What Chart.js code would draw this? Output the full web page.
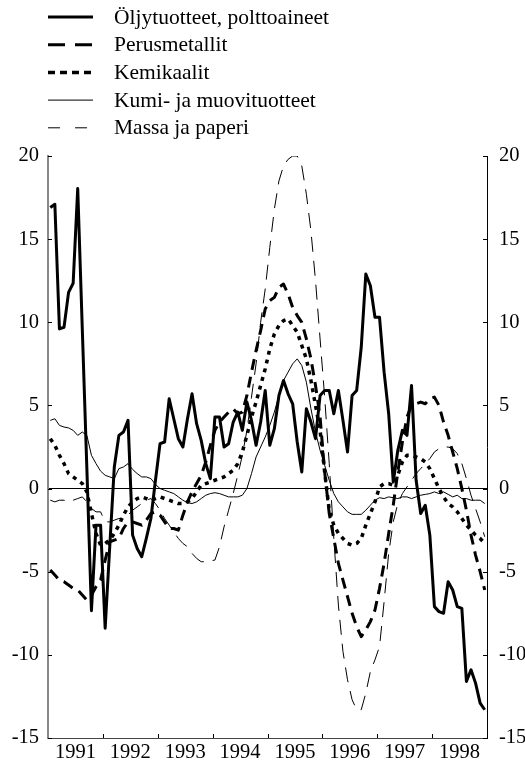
<!DOCTYPE html>
<html>
<head>
<meta charset="utf-8">
<script src="https://cdn.jsdelivr.net/npm/chart.js@4.4.0/dist/chart.umd.min.js"></script>
<style>
  html, body { margin: 0; padding: 0; background: #fff; }
  #wrap { width: 525px; height: 763px; }
</style>
</head>
<body>
<div id="wrap"><canvas id="chart" width="525" height="763"></canvas></div>
<script>
// ----------------------
// Data: monthly values, Jan 1991 - Dec 1998
// ----------------------
const years = [1991, 1992, 1993, 1994, 1995, 1996, 1997, 1998];
const yTicks = [-15, -10, -5, 0, 5, 10, 15, 20];

const seriesNames = [
  'Öljytuotteet, polttoaineet',
  'Perusmetallit',
  'Kemikaalit',
  'Kumi- ja muovituotteet',
  'Massa ja paperi'
];

const oljy = [
  16.9, 17.1, 9.6, 9.7, 11.8, 12.35, 18.05, 9.6, 1.2, -7.35, -2.2, -2.2,
  -8.4, -3.5, 1.3, 3.2, 3.4, 4.1, -2.8, -3.6, -4.1, -3.0, -1.8, 0.5,
  2.7, 2.8, 5.4, 4.2, 3.0, 2.5, 4.2, 5.7, 3.9, 2.9, 1.5, 0.6,
  4.3, 4.3, 2.5, 2.7, 4.0, 4.6, 3.5, 5.2, 4.1, 2.6, 4.0, 5.9,
  2.6, 3.6, 5.6, 6.5, 5.7, 5.1, 2.8, 1.0, 4.8, 4.0, 3.0, 5.6,
  5.9, 5.9, 4.5, 5.9, 4.1, 2.2, 5.6, 5.9, 8.5, 12.9, 12.2, 10.3,
  10.3, 7.0, 4.5, 0.4, 2.3, 3.5, 3.2, 6.2, 0.5, -1.5, -1.0, -2.8,
  -7.1, -7.4, -7.5, -5.6, -6.1, -7.1, -7.2, -11.6, -10.9, -11.7, -12.9, -13.3
];

const perusmetallit = [
  -4.9, -5.2, -5.5, -5.6, -5.8, -6.0, -6.1, -6.4, -6.7, -6.4, -5.9, -5.5,
  -4.3, -3.2, -3.1, -3.0, -2.4, -2.0, -2.0, -2.1, -2.2, -1.9, -1.5, -1.4,
  -1.6, -2.0, -2.4, -2.4, -2.5, -1.6, -0.8, -0.2, 0.3, 0.8, 1.6, 2.6,
  3.5, 4.0, 4.3, 4.6, 4.8, 4.5, 4.6, 5.6, 7.0, 8.3, 9.5, 10.8,
  11.3, 11.5, 12.1, 12.3, 11.7, 10.9, 10.4, 10.0, 9.0, 7.8, 6.2, 4.3,
  1.0, -1.5, -3.0, -4.5, -5.5, -6.5, -7.5, -8.3, -8.9, -8.5, -8.0, -7.3,
  -6.0, -4.5, -2.7, -1.0, 1.0, 2.8, 4.3, 5.0, 5.1, 5.2, 5.1, 5.4,
  5.5, 5.0, 4.0, 3.2, 2.2, 1.2, 0.0, -1.3, -2.8, -4.0, -5.0, -6.1
];

const kemikaalit = [
  3.0, 2.6, 2.0, 1.5, 0.9, 0.7, 0.5, 0.3, -0.2, -1.5, -2.7, -3.4,
  -3.3, -3.1, -2.7, -2.2, -1.6, -1.1, -0.8, -0.6, -0.5, -0.6, -0.7, -0.6,
  -0.5, -0.6, -0.7, -0.8, -0.9, -0.9, -0.8, -0.6, -0.2, 0.2, 0.3, 0.4,
  0.5, 0.6, 0.7, 0.9, 1.1, 1.5, 2.2, 3.2, 4.3, 5.2, 6.2, 7.2,
  8.4, 9.3, 9.8, 10.1, 10.2, 9.8, 9.4, 8.6, 7.8, 6.5, 5.0, 3.5,
  1.0, -1.3, -2.2, -2.7, -3.0, -3.3, -3.4, -3.3, -3.0, -2.2, -1.5, -0.8,
  0.1, 0.3, 0.3, 0.2, 0.8, 1.6, 2.0, 2.0, 1.9, 1.8, 1.6, 1.2,
  0.6, 0.0, -0.5, -0.9, -1.1, -1.4, -1.8, -2.2, -2.5, -2.8, -3.0, -3.3
];

const kumiMuovi = [
  4.1, 4.2, 3.8, 3.7, 3.65, 3.5, 3.2, 3.4, 3.2, 2.0, 1.5, 1.05,
  0.8, 0.7, 0.6, 1.2, 1.3, 1.5, 1.15, 0.9, 0.7, 0.7, 0.6, 0.25,
  0.0, -0.1, -0.2, -0.3, -0.5, -0.7, -0.85, -0.9, -0.8, -0.6, -0.4, -0.3,
  -0.25, -0.3, -0.4, -0.5, -0.5, -0.5, -0.4, 0.0, 0.9, 1.9, 2.5, 3.1,
  3.8, 4.6, 5.6, 6.5, 7.0, 7.5, 7.8, 7.4, 6.4, 4.8, 3.4, 2.3,
  1.4, 0.5, -0.3, -0.8, -1.1, -1.4, -1.55, -1.55, -1.55, -1.3, -1.0, -0.7,
  -0.55, -0.6, -0.5, -0.55, -0.6, -0.5, -0.5, -0.6, -0.5, -0.4, -0.35, -0.3,
  -0.2, -0.3, -0.2, -0.35, -0.5, -0.4, -0.6, -0.6, -0.7, -0.7, -0.7, -0.9
];

const massaPaperi = [
  -0.7, -0.8, -0.7, -0.7, -0.8, -0.7, -0.6, -0.5, -0.8, -1.2, -1.4, -1.4,
  -2.0, -2.0, -1.9, -1.8, -1.8, -1.6, -1.3, -1.1, -0.9, -0.7, -0.6, -0.9,
  -1.3, -1.8, -2.2, -2.6, -3.0, -3.3, -3.5, -3.9, -4.2, -4.4, -4.4, -4.35,
  -4.3, -3.5, -2.3, -1.3, -0.3, 0.8, 2.0, 3.5, 5.5, 7.5, 10.0, 12.0,
  14.5, 16.8, 18.5, 19.4, 19.8, 20.0, 20.0, 19.4, 17.7, 15.5, 12.5, 9.0,
  5.5, 1.5, -3.0, -7.0, -9.8, -11.5, -12.7, -13.3, -13.3, -12.3, -11.0, -10.3,
  -9.5, -6.8, -3.9, -2.0, -0.9, -0.3, 0.1, 0.5, 0.9, 1.2, 1.5, 1.8,
  2.2, 2.4, 2.5, 2.5, 2.4, 2.1, 1.5, 0.6, -0.4, -1.2, -2.0, -2.9
];

// ----------------------
// Styles
// ----------------------
const FONT = '"Liberation Serif", "Times New Roman", "DejaVu Serif", serif';
const LEGEND_SIZE = 21.5;
const TICK_SIZE = 20.5;

const lineStyles = [
  { width: 3,   dash: [],      legendDash: [] },
  { width: 3,   dash: [11, 7], legendDash: [17, 10] },
  { width: 3.5, dash: [4, 5],  legendDash: [7, 5] },
  { width: 1,   dash: [],      legendDash: [] },
  { width: 1,   dash: [15, 9], legendDash: [12, 15] }
];

const seriesValues = [oljy, perusmetallit, kemikaalit, kumiMuovi, massaPaperi];

// month i is plotted in the middle of its month slot
const toPoints = arr => arr.map((v, i) => ({ x: i + 0.5, y: v }));

const datasets = seriesValues.map((arr, k) => ({
  label: seriesNames[k],
  data: toPoints(arr),
  borderColor: '#000',
  borderWidth: lineStyles[k].width,
  borderDash: lineStyles[k].dash,
  borderCapStyle: 'butt',
  borderJoinStyle: 'round',
  pointRadius: 0,
  tension: 0,
  fill: false
}));

// ----------------------
// Legend at top (line samples + names)
// ----------------------
const sampleLegend = {
  id: 'sampleLegend',
  afterDraw(chart) {
    const ctx = chart.ctx;
    ctx.save();
    seriesNames.forEach((name, k) => {
      const y = 17 + k * 27.7;
      ctx.strokeStyle = '#000';
      ctx.lineWidth = lineStyles[k].width;
      ctx.setLineDash(lineStyles[k].legendDash);
      ctx.beginPath();
      ctx.moveTo(48, y);
      ctx.lineTo(93, y);
      ctx.stroke();
      ctx.setLineDash([]);
      ctx.fillStyle = '#000';
      ctx.font = LEGEND_SIZE + 'px ' + FONT;
      ctx.textBaseline = 'middle';
      ctx.textAlign = 'left';
      ctx.fillText(name, 114, y + 1);
    });
    ctx.restore();
  }
};

// ----------------------
// Inward tick marks on both y axes and year breaks on x axis
// ----------------------
const tickMarks = {
  id: 'tickMarks',
  afterDraw(chart) {
    const { ctx, chartArea: a, scales } = chart;
    ctx.save();
    ctx.strokeStyle = '#000';
    ctx.lineWidth = 1;
    ctx.beginPath();
    yTicks.forEach(v => {
      const py = Math.round(scales.y.getPixelForValue(v)) + 0.5;
      ctx.moveTo(a.left, py);  ctx.lineTo(a.left + 4, py);
      ctx.moveTo(a.right, py); ctx.lineTo(a.right - 4, py);
    });
    years.slice(1).forEach((yr, i) => {
      const px = Math.round(scales.x.getPixelForValue((i + 1) * 12)) + 0.5;
      ctx.moveTo(px, a.bottom); ctx.lineTo(px, a.bottom - 4);
    });
    ctx.stroke();
    ctx.restore();
  }
};

const tickFont = { family: FONT, size: TICK_SIZE };

new Chart(document.getElementById('chart').getContext('2d'), {
  type: 'line',
  data: { datasets },
  options: {
    responsive: false,
    devicePixelRatio: 1,
    animation: false,
    layout: { padding: { top: 156, left: 0, right: 0, bottom: 0 } },
    plugins: { legend: { display: false }, tooltip: { enabled: false } },
    scales: {
      x: {
        type: 'linear',
        min: 0,
        max: years.length * 12,
        afterBuildTicks: s => { s.ticks = years.map((yr, i) => ({ value: i * 12 + 6 })); },
        afterFit: s => { s.height = 25; },
        ticks: {
          autoSkip: false,
          maxRotation: 0,
          padding: 2,
          color: '#000',
          font: tickFont,
          callback: v => years[Math.round((v - 6) / 12)]
        },
        grid: { display: false, drawTicks: false },
        border: { display: true, color: '#444', width: 1 }
      },
      y: {
        position: 'left',
        min: -15,
        max: 20,
        afterBuildTicks: s => { s.ticks = yTicks.map(v => ({ value: v })); },
        afterFit: s => { s.width = 48; },
        ticks: { padding: 9, color: '#000', font: tickFont },
        grid: {
          drawTicks: false,
          lineWidth: 1,
          color: c => (c.tick && c.tick.value === 0) ? '#000' : 'rgba(0,0,0,0)'
        },
        border: { display: true, color: '#888', width: 2 }
      },
      y2: {
        position: 'right',
        min: -15,
        max: 20,
        afterBuildTicks: s => { s.ticks = yTicks.map(v => ({ value: v })); },
        afterFit: s => { s.width = 38; },
        ticks: { padding: 12, color: '#000', font: tickFont },
        grid: { display: false, drawTicks: false },
        border: { display: true, color: '#000', width: 1 }
      }
    }
  },
  plugins: [sampleLegend, tickMarks]
});
</script>
</body>
</html>
